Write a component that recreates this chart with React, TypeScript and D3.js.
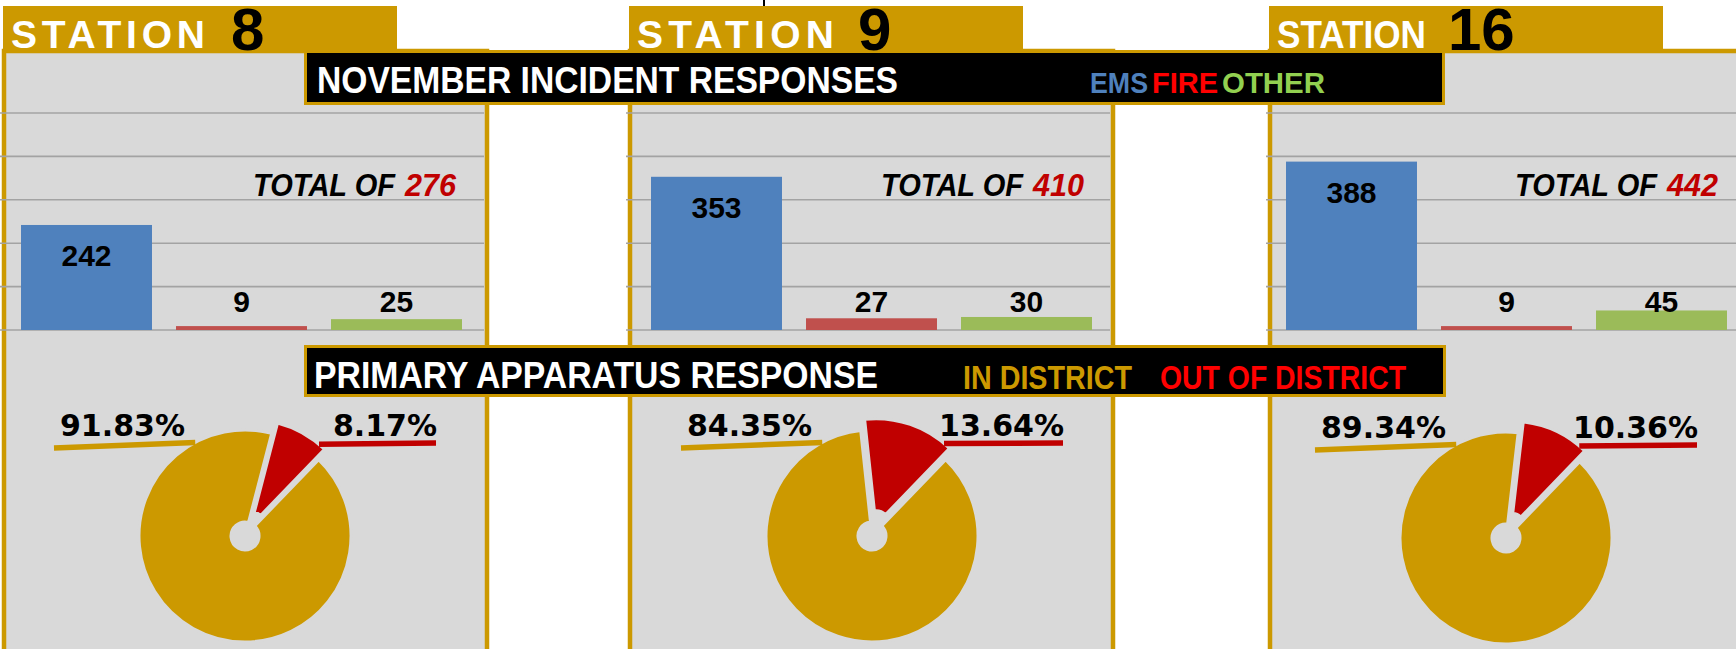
import React from 'react';
import * as d3 from 'd3';

// ---------- DATA ----------
const STATIONS = ['8', '9', '16'];
const CATEGORIES = ['EMS', 'FIRE', 'OTHER'];
const EMS = [242, 353, 388];
const FIRE = [9, 27, 9];
const OTHER = [25, 30, 45];
const IN_DISTRICT = [91.83, 84.35, 89.34];
const OUT_DISTRICT = [8.17, 13.64, 10.36];
const Y_TICKS = [0, 100, 200, 300, 400, 500];
const LEGEND_WORDS = ['EMS', 'FIRE', 'OTHER'];
const PIE_LEGEND = ['IN DISTRICT', 'OUT OF DISTRICT'];

// ---------- LAYOUT / STYLE ----------
const W = 1736;
const H = 649;
const GOLD = '#CC9900';
const PANEL_BG = '#D9D9D9';
const GRID = '#A3A3A3';
const BAR_COLORS = ['#4F81BD', '#C0504D', '#9BBB59'];
const LEGEND_COLORS = ['#4F81BD', '#FF0000', '#92D050'];
const PIE_COLORS = ['#CC9900', '#C00000'];
const TOTAL_RED = '#C00000';
const SANS = "'Liberation Sans', Arial, sans-serif";
const PCT_FONT = "'DejaVu Sans', Verdana, sans-serif";

const PANEL_X = [2, 628, 1268];
const PANEL_W = 487;
const PANEL_TOP = 49;
const HEADER_X = [3, 629, 1269];
const HEADER_W = 394;
const BAR_RANGE: [number, number][] = [[9, 474], [639, 1104], [1274, 1739]];
const PLOT_Y: [number, number] = [330, 113];
const PIE_C: [number, number][] = [[245, 536], [872, 536], [1506, 538]];
const TOTAL_X = [456, 1084, 1718];
const STATION_TXT_W = [194, 197, 149];
const NUM_DX = [228, 229, 179];
const LEGEND_X = [1090, 1152, 1222];
const LEGEND_W = [58, 66, 103];
const PIE_R = 106;
const PIE_HOLE = 14;
const EXPLODE = 12;
const START_ANGLE = (44 * Math.PI) / 180;
const LABEL_FLOOR = 42; // value level where small-bar labels sit

const deg = (d: number) => (d * Math.PI) / 180;

function Panel({ i }: { i: number }) {
  const values = [EMS[i], FIRE[i], OTHER[i]];
  const total = d3.sum(values);
  const y = d3.scaleLinear().domain([0, 500]).range(PLOT_Y);
  const x = d3
    .scaleBand<string>()
    .domain(CATEGORIES)
    .range(BAR_RANGE[i])
    .paddingInner(0.155)
    .paddingOuter(0.0775);
  const px = PANEL_X[i];
  const gridX1 = px - 2;
  const gridX2 = Math.min(px + PANEL_W - 5, W);

  const [cx, cy] = PIE_C[i];
  const pie = d3
    .pie<number>()
    .sort(null)
    .startAngle(START_ANGLE)
    .endAngle(START_ANGLE + 2 * Math.PI);
  const arcs = pie([IN_DISTRICT[i], OUT_DISTRICT[i]]);
  const arc = d3.arc<d3.PieArcDatum<number>>().innerRadius(PIE_HOLE).outerRadius(PIE_R);
  const red = arcs[1];
  const mid = (red.startAngle + red.endAngle) / 2;
  const ox = EXPLODE * Math.sin(mid);
  const oy = -EXPLODE * Math.cos(mid);
  const goldLeadA = deg(-28);
  const redLeadA = red.endAngle - deg(4);
  const fmt = d3.format('.2f');

  return (
    <g>
      {/* panel */}
      <rect x={px + 2} y={PANEL_TOP + 2} width={PANEL_W - 4} height={H} fill={PANEL_BG} stroke={GOLD} strokeWidth={4.5} />
      {/* header */}
      <rect x={HEADER_X[i]} y={6} width={HEADER_W} height={PANEL_TOP - 6} fill={GOLD} />

      {/* gridlines */}
      {Y_TICKS.map((t) => (
        <line key={t} x1={gridX1} x2={gridX2} y1={y(t)} y2={y(t)} stroke={GRID} strokeWidth={1.6} />
      ))}

      {/* bars */}
      {CATEGORIES.map((c, k) => (
        <rect
          key={c}
          x={x(c)}
          y={y(values[k])}
          width={x.bandwidth()}
          height={y(0) - y(values[k])}
          fill={BAR_COLORS[k]}
        />
      ))}
      {CATEGORIES.map((c, k) => {
        const big = values[k] > 100;
        return (
          <text
            key={c + 'l'}
            x={(x(c) as number) + x.bandwidth() / 2}
            y={big ? y(values[k]) + 41 : y(LABEL_FLOOR)}
            textAnchor="middle"
            fontFamily={SANS}
            fontWeight="bold"
            fontSize={30}
            fill="#000"
          >
            {values[k]}
          </text>
        );
      })}

      {/* total */}
      <text
        x={TOTAL_X[i] - 61}
        y={196}
        textAnchor="end"
        fontFamily={SANS}
        fontWeight="bold"
        fontStyle="italic"
        fontSize={31}
        textLength={142}
        lengthAdjust="spacingAndGlyphs"
        fill="#000"
      >
        TOTAL OF
      </text>
      <text
        x={TOTAL_X[i]}
        y={196}
        textAnchor="end"
        fontFamily={SANS}
        fontWeight="bold"
        fontStyle="italic"
        fontSize={31}
        textLength={51}
        lengthAdjust="spacingAndGlyphs"
        fill={TOTAL_RED}
      >
        {total}
      </text>

      {/* pie */}
      <g transform={`translate(${cx},${cy})`}>
        <path d={arc(arcs[0]) as string} fill={PIE_COLORS[0]} stroke={PANEL_BG} strokeWidth={3} />
        <g transform={`translate(${ox},${oy})`}>
          <path d={arc(red) as string} fill={PIE_COLORS[1]} stroke={PANEL_BG} strokeWidth={3} />
        </g>
        {/* leader lines */}
        <line
          x1={-191}
          y1={-88}
          x2={PIE_R * Math.sin(goldLeadA)}
          y2={-PIE_R * Math.cos(goldLeadA)}
          stroke={PIE_COLORS[0]}
          strokeWidth={5.5}
        />
        <line
          x1={ox + PIE_R * Math.sin(redLeadA)}
          y1={oy - PIE_R * Math.cos(redLeadA)}
          x2={191}
          y2={-93}
          stroke={PIE_COLORS[1]}
          strokeWidth={5.5}
        />
        <text x={-185} y={-100} fontFamily={PCT_FONT} fontWeight="bold" fontSize={30} fill="#000">
          {fmt(IN_DISTRICT[i])}%
        </text>
        <text x={192} y={-100} textAnchor="end" fontFamily={PCT_FONT} fontWeight="bold" fontSize={30} fill="#000">
          {fmt(OUT_DISTRICT[i])}%
        </text>
      </g>
    </g>
  );
}

function Header({ i }: { i: number }) {
  const hx = HEADER_X[i];
  const w = STATION_TXT_W[i];
  return (
    <g>
      <text
        x={hx + 8}
        y={48}
        fontFamily={SANS}
        fontWeight="bold"
        fontSize={39}
        fill="#fff"
        textLength={w}
        lengthAdjust={w > 175 ? 'spacing' : 'spacingAndGlyphs'}
      >
        STATION
      </text>
      <text x={hx + NUM_DX[i]} y={50} fontFamily={SANS} fontWeight="bold" fontSize={60} fill="#000">
        {STATIONS[i]}
      </text>
    </g>
  );
}

export default function App() {
  return (
    <svg
      width={W}
      height={H}
      viewBox={`0 0 ${W} ${H}`}
      style={{ position: 'absolute', left: 0, top: 0, background: '#fff' }}
    >
      <rect x={0} y={0} width={W} height={H} fill="#fff" />
      <line x1={764} x2={764} y1={0} y2={6} stroke="#000" strokeWidth={2} />
      {STATIONS.map((s, i) => (
        <Panel key={s} i={i} />
      ))}

      {/* top banner */}
      <rect x={305.5} y={51.5} width={1138} height={52} fill="#000" stroke={GOLD} strokeWidth={3} />
      <text
        x={317}
        y={93}
        fontFamily={SANS}
        fontWeight="bold"
        fontSize={37}
        fill="#fff"
        textLength={581}
        lengthAdjust="spacingAndGlyphs"
      >
        NOVEMBER INCIDENT RESPONSES
      </text>
      {LEGEND_WORDS.map((wd, k) => (
        <text
          key={wd}
          x={LEGEND_X[k]}
          y={93}
          fontFamily={SANS}
          fontWeight="bold"
          fontSize={30}
          fill={LEGEND_COLORS[k]}
          textLength={LEGEND_W[k]}
          lengthAdjust="spacingAndGlyphs"
        >
          {wd}
        </text>
      ))}

      {/* second banner */}
      <rect x={305.5} y={346.5} width={1139} height={49} fill="#000" stroke={GOLD} strokeWidth={3} />
      <text
        x={314}
        y={388}
        fontFamily={SANS}
        fontWeight="bold"
        fontSize={36}
        fill="#fff"
        textLength={564}
        lengthAdjust="spacingAndGlyphs"
      >
        PRIMARY APPARATUS RESPONSE
      </text>
      <text
        x={963}
        y={389}
        fontFamily={SANS}
        fontWeight="bold"
        fontSize={33}
        fill={PIE_COLORS[0]}
        textLength={169}
        lengthAdjust="spacingAndGlyphs"
      >
        {PIE_LEGEND[0]}
      </text>
      <text
        x={1160}
        y={389}
        fontFamily={SANS}
        fontWeight="bold"
        fontSize={33}
        fill="#FF0000"
        textLength={246}
        lengthAdjust="spacingAndGlyphs"
      >
        {PIE_LEGEND[1]}
      </text>

      {STATIONS.map((s, i) => (
        <Header key={s + 'h'} i={i} />
      ))}
    </svg>
  );
}
